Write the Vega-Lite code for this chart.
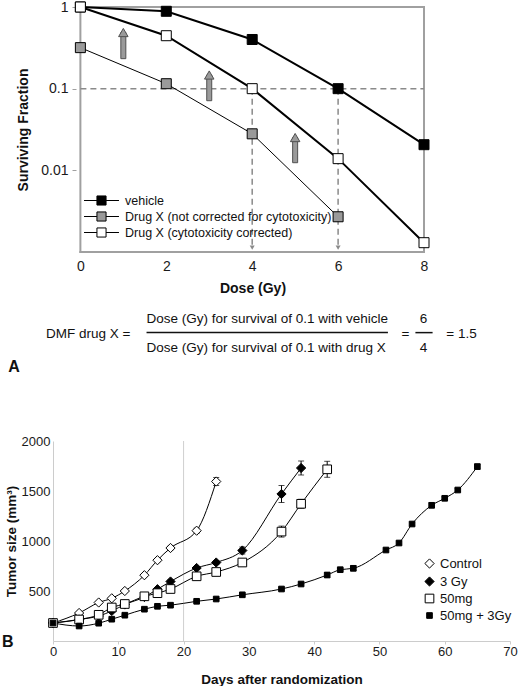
{
  "$schema": "https://vega.github.io/schema/vega-lite/v6.json",
  "padding": {"left": 2, "top": 0, "right": 0, "bottom": 0},
  "autosize": {"type": "pad"},
  "background": "white",
  "align": "none",
  "spacing": 59,
  "resolve": {
    "scale": {"x": "independent", "y": "independent", "fill": "independent", "shape": "independent", "size": "independent"}
  },
  "config": {
    "font": "Liberation Sans",
    "axis": {"labelFont": "Liberation Sans", "titleFont": "Liberation Sans", "labelColor": "#1a1a1a", "titleColor": "#111111", "grid": false},
    "legend": {"labelFont": "Liberation Sans", "labelLimit": 0},
    "text": {"font": "Liberation Sans"},
    "view": {"stroke": null}
  },
  "datasets": {
    "survival": [
      {"dose": 0, "sf": 1, "series": "vehicle"},
      {"dose": 2, "sf": 0.886, "series": "vehicle"},
      {"dose": 4, "sf": 0.4, "series": "vehicle"},
      {"dose": 6, "sf": 0.1, "series": "vehicle"},
      {"dose": 8, "sf": 0.0206, "series": "vehicle"},
      {"dose": 0, "sf": 0.318, "series": "Drug X (not corrected for cytotoxicity)"},
      {"dose": 2, "sf": 0.115, "series": "Drug X (not corrected for cytotoxicity)"},
      {"dose": 4, "sf": 0.028, "series": "Drug X (not corrected for cytotoxicity)"},
      {"dose": 6, "sf": 0.0027, "series": "Drug X (not corrected for cytotoxicity)"},
      {"dose": 0, "sf": 1, "series": "Drug X (cytotoxicity corrected)"},
      {"dose": 2, "sf": 0.445, "series": "Drug X (cytotoxicity corrected)"},
      {"dose": 4, "sf": 0.1, "series": "Drug X (cytotoxicity corrected)"},
      {"dose": 6, "sf": 0.0139, "series": "Drug X (cytotoxicity corrected)"},
      {"dose": 8, "sf": 0.0013, "series": "Drug X (cytotoxicity corrected)"}
    ],
    "frame": [
      {"dose": 0, "dose_end": 0, "sf": 0.001, "sf_end": 1},
      {"dose": 8, "dose_end": 8, "sf": 0.001, "sf_end": 1},
      {"dose": 0, "dose_end": 8, "sf": 1, "sf_end": 1},
      {"dose": 0, "dose_end": 8, "sf": 0.001, "sf_end": 0.001}
    ],
    "guides": [
      {"dose": 0, "dose_end": 8, "sf": 0.1, "sf_end": 0.1},
      {"dose": 4, "dose_end": 4, "sf": 0.1, "sf_end": 0.00118},
      {"dose": 6, "dose_end": 6, "sf": 0.1, "sf_end": 0.00118}
    ],
    "guide_heads": [
      {"dose": 4, "sf": 0.00113},
      {"dose": 6, "sf": 0.00113}
    ],
    "arrows": [
      {"dose": 1, "tail": 0.233, "tip": 0.487},
      {"dose": 3, "tail": 0.0712, "tip": 0.147},
      {"dose": 5, "tail": 0.0124, "tip": 0.0252}
    ],
    "tumor": [
      {"day": 0, "size": 180, "err": 8, "group": "Control"},
      {"day": 4, "size": 280, "err": 10, "group": "Control"},
      {"day": 7, "size": 385, "err": 10, "group": "Control"},
      {"day": 9, "size": 427, "err": 10, "group": "Control"},
      {"day": 11, "size": 500, "err": 12, "group": "Control"},
      {"day": 14, "size": 658, "err": 12, "group": "Control"},
      {"day": 16, "size": 808, "err": 15, "group": "Control"},
      {"day": 18, "size": 930, "err": 18, "group": "Control"},
      {"day": 22, "size": 1103, "err": 25, "group": "Control"},
      {"day": 25, "size": 1595, "err": 40, "group": "Control"},
      {"day": 0, "size": 180, "err": 8, "group": "3 Gy"},
      {"day": 4, "size": 215, "err": 10, "group": "3 Gy"},
      {"day": 7, "size": 250, "err": 10, "group": "3 Gy"},
      {"day": 9, "size": 300, "err": 12, "group": "3 Gy"},
      {"day": 11, "size": 365, "err": 12, "group": "3 Gy"},
      {"day": 14, "size": 440, "err": 20, "group": "3 Gy"},
      {"day": 16, "size": 518, "err": 15, "group": "3 Gy"},
      {"day": 18, "size": 595, "err": 15, "group": "3 Gy"},
      {"day": 22, "size": 730, "err": 15, "group": "3 Gy"},
      {"day": 25, "size": 785, "err": 20, "group": "3 Gy"},
      {"day": 29, "size": 905, "err": 35, "group": "3 Gy"},
      {"day": 35, "size": 1470, "err": 85, "group": "3 Gy"},
      {"day": 38, "size": 1730, "err": 70, "group": "3 Gy"},
      {"day": 0, "size": 180, "err": 8, "group": "50mg"},
      {"day": 4, "size": 215, "err": 10, "group": "50mg"},
      {"day": 7, "size": 262, "err": 10, "group": "50mg"},
      {"day": 9, "size": 335, "err": 12, "group": "50mg"},
      {"day": 11, "size": 370, "err": 12, "group": "50mg"},
      {"day": 14, "size": 447, "err": 15, "group": "50mg"},
      {"day": 16, "size": 478, "err": 15, "group": "50mg"},
      {"day": 18, "size": 520, "err": 20, "group": "50mg"},
      {"day": 22, "size": 647, "err": 15, "group": "50mg"},
      {"day": 25, "size": 690, "err": 20, "group": "50mg"},
      {"day": 29, "size": 785, "err": 25, "group": "50mg"},
      {"day": 35, "size": 1094, "err": 55, "group": "50mg"},
      {"day": 38, "size": 1372, "err": 45, "group": "50mg"},
      {"day": 42, "size": 1717, "err": 80, "group": "50mg"},
      {"day": 0, "size": 180, "err": 8, "group": "50mg + 3Gy"},
      {"day": 4, "size": 150, "err": 8, "group": "50mg + 3Gy"},
      {"day": 7, "size": 178, "err": 8, "group": "50mg + 3Gy"},
      {"day": 9, "size": 218, "err": 8, "group": "50mg + 3Gy"},
      {"day": 11, "size": 258, "err": 8, "group": "50mg + 3Gy"},
      {"day": 14, "size": 318, "err": 8, "group": "50mg + 3Gy"},
      {"day": 16, "size": 347, "err": 8, "group": "50mg + 3Gy"},
      {"day": 18, "size": 358, "err": 8, "group": "50mg + 3Gy"},
      {"day": 22, "size": 397, "err": 8, "group": "50mg + 3Gy"},
      {"day": 25, "size": 420, "err": 8, "group": "50mg + 3Gy"},
      {"day": 29, "size": 462, "err": 10, "group": "50mg + 3Gy"},
      {"day": 35, "size": 520, "err": 10, "group": "50mg + 3Gy"},
      {"day": 38, "size": 570, "err": 10, "group": "50mg + 3Gy"},
      {"day": 42, "size": 660, "err": 25, "group": "50mg + 3Gy"},
      {"day": 44, "size": 713, "err": 12, "group": "50mg + 3Gy"},
      {"day": 46, "size": 727, "err": 25, "group": "50mg + 3Gy"},
      {"day": 51, "size": 910, "err": 12, "group": "50mg + 3Gy"},
      {"day": 53, "size": 980, "err": 12, "group": "50mg + 3Gy"},
      {"day": 55, "size": 1170, "err": 12, "group": "50mg + 3Gy"},
      {"day": 58, "size": 1357, "err": 25, "group": "50mg + 3Gy"},
      {"day": 60, "size": 1427, "err": 15, "group": "50mg + 3Gy"},
      {"day": 62, "size": 1510, "err": 15, "group": "50mg + 3Gy"},
      {"day": 65, "size": 1744, "err": 25, "group": "50mg + 3Gy"}
    ]
  },
  "vconcat": [
    {
      "width": 376,
      "height": 245,
      "view": {"stroke": null},
      "layer": [
        {
          "data": {"name": "frame"},
          "mark": {"type": "rule", "color": "#a0a0a0", "strokeWidth": 2, "strokeCap": "square"},
          "encoding": {
            "x": {"field": "dose", "type": "quantitative", "scale": {"domain": [-0.5212, 8], "nice": false, "zero": false},
              "axis": {"title": "Dose (Gy)", "titleX": 199.5, "titleAlign": "center", "values": [0, 2, 4, 6, 8], "ticks": false, "domain": false, "labelFlush": false, "labelFontSize": 14, "labelPadding": 7, "titleFontSize": 14, "titleFontWeight": "bold", "titlePadding": 8}},
            "x2": {"field": "dose_end"},
            "y": {"field": "sf", "type": "quantitative", "scale": {"type": "log", "domain": [0.001, 1], "nice": false},
              "axis": {"title": "Surviving Fraction", "offset": -23, "values": [0.01, 0.1, 1], "format": "~g", "domain": false, "ticks": true, "tickSize": 4, "tickColor": "#a0a0a0", "labelFontSize": 14, "labelPadding": 4, "titleFontSize": 14, "titleFontWeight": "bold", "titlePadding": 10}},
            "y2": {"field": "sf_end"}
          }
        },
        {
          "data": {"name": "guides"},
          "mark": {"type": "rule", "color": "#8a8a8a", "strokeDash": [6, 4], "strokeWidth": 1.5},
          "encoding": {
            "x": {"field": "dose", "type": "quantitative"},
            "x2": {"field": "dose_end"},
            "y": {"field": "sf", "type": "quantitative"},
            "y2": {"field": "sf_end"}
          }
        },
        {
          "data": {"name": "guide_heads"},
          "mark": {"type": "point", "shape": "triangle-down", "filled": true, "color": "#8a8a8a", "size": 25, "opacity": 1},
          "encoding": {
            "x": {"field": "dose", "type": "quantitative"},
            "y": {"field": "sf", "type": "quantitative"}
          }
        },
        {
          "data": {"name": "arrows"},
          "mark": {"type": "bar", "size": 5, "fill": "#9a9a9a", "stroke": "#505050", "strokeWidth": 1},
          "encoding": {
            "x": {"field": "dose", "type": "quantitative"},
            "y": {"field": "tail", "type": "quantitative"},
            "y2": {"field": "tip"}
          }
        },
        {
          "data": {"name": "arrows"},
          "mark": {"type": "point", "shape": "triangle-up", "filled": true, "fill": "#9a9a9a", "stroke": "#505050", "strokeWidth": 1, "size": 90, "opacity": 1},
          "encoding": {
            "x": {"field": "dose", "type": "quantitative"},
            "y": {"field": "tip", "type": "quantitative"}
          }
        },
        {
          "data": {"name": "survival"},
          "transform": [{"filter": "datum.series !== 'Drug X (not corrected for cytotoxicity)'"}],
          "mark": {"type": "line", "color": "black", "strokeWidth": 2},
          "encoding": {
            "x": {"field": "dose", "type": "quantitative"},
            "y": {"field": "sf", "type": "quantitative"},
            "detail": {"field": "series", "type": "nominal"}
          }
        },
        {
          "data": {"name": "survival"},
          "transform": [{"filter": "datum.series === 'Drug X (not corrected for cytotoxicity)'"}],
          "mark": {"type": "line", "color": "black", "strokeWidth": 1},
          "encoding": {
            "x": {"field": "dose", "type": "quantitative"},
            "y": {"field": "sf", "type": "quantitative"}
          }
        },
        {
          "data": {"name": "survival"},
          "mark": {"type": "point", "shape": "square", "filled": true, "stroke": "black", "strokeWidth": 1, "size": 100, "opacity": 1},
          "encoding": {
            "x": {"field": "dose", "type": "quantitative"},
            "y": {"field": "sf", "type": "quantitative"},
            "fill": {"field": "series", "type": "nominal",
              "scale": {"domain": ["vehicle", "Drug X (not corrected for cytotoxicity)", "Drug X (cytotoxicity corrected)"], "range": ["black", "#9a9a9a", "white"]},
              "legend": {"orient": "none", "legendX": 40, "legendY": 185, "title": null, "padding": 0,
                "symbolType": "M-2.3,0H-0.6M0.6,0H2.3M-0.6,-0.6H0.6V0.6H-0.6Z", "symbolSize": 231,
                "symbolStrokeColor": "black", "symbolStrokeWidth": 1, "symbolOpacity": 1,
                "labelFontSize": 12.5, "labelColor": "#111111", "labelOffset": 15, "rowPadding": 0,
                "encode": {"symbols": {"update": {"stroke": {"value": "black"}, "strokeWidth": {"value": 1}, "opacity": {"value": 1}}}}}}
          }
        },
        {
          "data": {"values": [{"label": "DMF drug X ="}]},
          "mark": {"type": "text", "align": "left", "baseline": "middle", "fontSize": 13.5, "color": "#111111"},
          "encoding": {"x": {"datum": -0.8}, "y": {"datum": 0.0001}, "text": {"field": "label"}}
        },
        {
          "data": {"values": [{"label": "Dose (Gy) for survival of 0.1 with vehicle"}]},
          "mark": {"type": "text", "align": "left", "baseline": "middle", "fontSize": 13.5, "color": "#111111"},
          "encoding": {"x": {"datum": 1.54}, "y": {"datum": 0.000152}, "text": {"field": "label"}}
        },
        {
          "data": {"values": [{"label": "Dose (Gy) for survival of 0.1 with drug X"}]},
          "mark": {"type": "text", "align": "left", "baseline": "middle", "fontSize": 13.5, "color": "#111111"},
          "encoding": {"x": {"datum": 1.54}, "y": {"datum": 0.000067}, "text": {"field": "label"}}
        },
        {
          "data": {"values": [{"label": "="}]},
          "mark": {"type": "text", "align": "center", "baseline": "middle", "fontSize": 13.5, "color": "#111111"},
          "encoding": {"x": {"datum": 7.57}, "y": {"datum": 0.0001}, "text": {"field": "label"}}
        },
        {
          "data": {"values": [{"label": "6"}]},
          "mark": {"type": "text", "align": "center", "baseline": "middle", "fontSize": 13.5, "color": "#111111"},
          "encoding": {"x": {"datum": 7.99}, "y": {"datum": 0.00015}, "text": {"field": "label"}}
        },
        {
          "data": {"values": [{"label": "4"}]},
          "mark": {"type": "text", "align": "center", "baseline": "middle", "fontSize": 13.5, "color": "#111111"},
          "encoding": {"x": {"datum": 7.99}, "y": {"datum": 0.000066}, "text": {"field": "label"}}
        },
        {
          "data": {"values": [{"label": "= 1.5"}]},
          "mark": {"type": "text", "align": "left", "baseline": "middle", "fontSize": 13.5, "color": "#111111"},
          "encoding": {"x": {"datum": 8.52}, "y": {"datum": 0.0001}, "text": {"field": "label"}}
        },
        {
          "data": {"values": [{"label": "A"}]},
          "mark": {"type": "text", "align": "left", "baseline": "middle", "fontSize": 16, "fontWeight": "bold", "color": "#111111"},
          "encoding": {"x": {"datum": -1.677}, "y": {"datum": 0.000039}, "text": {"field": "label"}}
        },
        {
          "data": {"values": [{"bar": "numerator/denominator"}]},
          "mark": {"type": "rule", "color": "#111111", "strokeWidth": 1.5},
          "encoding": {"x": {"datum": 1.54}, "x2": {"datum": 7.16}, "y": {"datum": 0.000103}}
        },
        {
          "data": {"values": [{"bar": "6/4"}]},
          "mark": {"type": "rule", "color": "#111111", "strokeWidth": 1.5},
          "encoding": {"x": {"datum": 7.8}, "x2": {"datum": 8.2}, "y": {"datum": 0.000103}}
        }
      ]
    },
    {
      "width": 457,
      "height": 200,
      "view": {"stroke": null},
      "layer": [
        {
          "data": {"values": [{"day": 20}]},
          "mark": {"type": "rule", "color": "#cfcfcf", "strokeWidth": 1},
          "encoding": {
            "x": {"field": "day", "type": "quantitative", "scale": {"domain": [0, 70], "nice": false, "zero": false},
              "axis": {"title": "Days after randomization", "values": [0, 5, 10, 15, 20, 25, 30, 35, 40, 45, 50, 55, 60, 65, 70], "labelExpr": "datum.value % 10 === 0 ? datum.label : ''", "domainColor": "#cccccc", "ticks": true, "tickColor": "#cccccc", "tickSize": 3, "labelFlush": false, "labelFontSize": 13, "labelPadding": 1, "titleFontSize": 13.5, "titleFontWeight": "bold", "titlePadding": 14}}
          }
        },
        {
          "data": {"values": [{"label": "B"}]},
          "mark": {"type": "text", "align": "left", "baseline": "middle", "fontSize": 16, "fontWeight": "bold", "color": "#111111"},
          "encoding": {"x": {"datum": -7.81}, "y": {"datum": -5}, "text": {"field": "label"}}
        },
        {
          "data": {"name": "tumor"},
          "mark": {"type": "errorbar", "rule": {"color": "black", "strokeWidth": 1}, "ticks": {"size": 6, "color": "black"}},
          "encoding": {
            "x": {"field": "day", "type": "quantitative"},
            "y": {"field": "size", "type": "quantitative", "scale": {"domain": [0, 2000], "nice": false},
              "axis": {"title": "Tumor size (mm³)", "values": [500, 1000, 1500, 2000], "format": "d", "domainColor": "#cccccc", "ticks": false, "labelFontSize": 13, "labelPadding": 3, "titleFontSize": 13.5, "titleFontWeight": "bold", "titlePadding": 3}},
            "yError": {"field": "err"},
            "detail": {"field": "group", "type": "nominal"}
          }
        },
        {
          "data": {"name": "tumor"},
          "mark": {"type": "line", "color": "black", "strokeWidth": 1, "interpolate": "monotone"},
          "encoding": {
            "x": {"field": "day", "type": "quantitative"},
            "y": {"field": "size", "type": "quantitative"},
            "detail": {"field": "group", "type": "nominal"}
          }
        },
        {
          "data": {"name": "tumor"},
          "mark": {"type": "point", "filled": true, "stroke": "black", "strokeWidth": 1, "opacity": 1},
          "encoding": {
            "x": {"field": "day", "type": "quantitative"},
            "y": {"field": "size", "type": "quantitative"},
            "shape": {"field": "group", "type": "nominal", "scale": {"domain": ["Control", "3 Gy", "50mg", "50mg + 3Gy"], "range": ["diamond", "diamond", "square", "square"]},
              "legend": {"orient": "none", "legendX": 370, "legendY": 116, "title": null, "padding": 0, "labelFontSize": 13, "labelColor": "#111111", "symbolStrokeColor": "black", "symbolStrokeWidth": 1, "symbolOpacity": 1, "rowPadding": 3, "labelOffset": 4,
                "encode": {"symbols": {"update": {"stroke": {"value": "black"}, "strokeWidth": {"value": 1}, "opacity": {"value": 1}}}}}},
            "fill": {"field": "group", "type": "nominal", "scale": {"domain": ["Control", "3 Gy", "50mg", "50mg + 3Gy"], "range": ["white", "black", "white", "black"]},
              "legend": {"orient": "none", "legendX": 370, "legendY": 116, "title": null, "padding": 0, "labelFontSize": 13, "labelColor": "#111111", "symbolStrokeColor": "black", "symbolStrokeWidth": 1, "symbolOpacity": 1, "rowPadding": 3, "labelOffset": 4,
                "encode": {"symbols": {"update": {"stroke": {"value": "black"}, "strokeWidth": {"value": 1}, "opacity": {"value": 1}}}}}},
            "size": {"field": "group", "type": "ordinal", "scale": {"type": "ordinal", "domain": ["Control", "3 Gy", "50mg", "50mg + 3Gy"], "range": [85, 85, 75, 32]},
              "legend": {"orient": "none", "legendX": 370, "legendY": 116, "title": null, "padding": 0, "labelFontSize": 13, "labelColor": "#111111", "symbolStrokeColor": "black", "symbolStrokeWidth": 1, "symbolOpacity": 1, "rowPadding": 3, "labelOffset": 4,
                "encode": {"symbols": {"update": {"stroke": {"value": "black"}, "strokeWidth": {"value": 1}, "opacity": {"value": 1}}}}}}
          }
        }
      ]
    }
  ]
}
